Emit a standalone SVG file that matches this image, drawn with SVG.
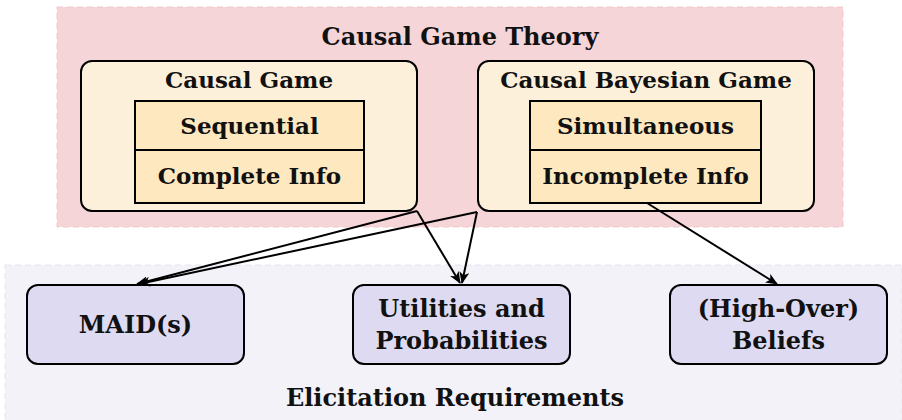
<svg xmlns="http://www.w3.org/2000/svg" width="902" height="420" viewBox="0 0 902 420">
<defs>
<style>
text{font-family:"DejaVu Serif","Liberation Serif",serif;font-weight:bold;font-size:23px;fill:#111;text-anchor:middle}
.big{font-size:24px}
.outer{fill:#fdf0db;stroke:#000;stroke-width:2}
.inner{fill:#fde8c0;stroke:#000;stroke-width:2}
.req{fill:#dedaf2;stroke:#000;stroke-width:2}
.edge{fill:none;stroke:#000;stroke-width:2}
</style>
<marker id="arr" viewBox="0 0 12 10" refX="11" refY="5" markerWidth="12" markerHeight="10" markerUnits="userSpaceOnUse" orient="auto">
<path d="M0,0 L12,5 L0,10 L3,5 Z" fill="#000"/>
</marker>
</defs>
<g id="bg-theory">
<rect x="57" y="7" width="786" height="220" fill="#f5d5d8" stroke="#f0c8cc" stroke-dasharray="6 4"/>
<text class="big" x="460" y="45">Causal Game Theory</text>
</g>
<g id="bg-elicit">
<rect x="5" y="265" width="897" height="160" fill="#f4f2f9" stroke="#e6e3ef" stroke-dasharray="6 4"/>
<text class="big" x="455" y="406">Elicitation Requirements</text>
</g>
<g id="causal-game">
<rect class="outer" x="81" y="61" width="336" height="150" rx="11"/>
<text x="249" y="88">Causal Game</text>
<rect class="inner" x="135" y="101" width="229" height="49"/>
<text x="249.5" y="134">Sequential</text>
<rect class="inner" x="135" y="150" width="229" height="53"/>
<text x="249.5" y="184">Complete Info</text>
</g>
<g id="causal-bayesian-game">
<rect class="outer" x="478" y="61" width="336" height="150" rx="11"/>
<text x="646" y="88">Causal Bayesian Game</text>
<rect class="inner" x="530" y="101" width="231" height="49"/>
<text x="645.5" y="134">Simultaneous</text>
<rect class="inner" x="530" y="150" width="231" height="53"/>
<text x="645.5" y="184">Incomplete Info</text>
</g>
<g id="maids">
<rect class="req" x="27" y="285" width="217" height="79" rx="11"/>
<text class="big" x="135.5" y="333">MAID(s)</text>
</g>
<g id="utilities">
<rect class="req" x="353" y="285" width="217" height="79" rx="11"/>
<text class="big" x="461.5" y="317">Utilities and</text>
<text class="big" x="461.5" y="349">Probabilities</text>
</g>
<g id="beliefs">
<rect class="req" x="670" y="285" width="217" height="79" rx="11"/>
<text class="big" x="778.5" y="317">(High-Over)</text>
<text class="big" x="778.5" y="349">Beliefs</text>
</g>
<g id="connectors">
<line class="edge" x1="417" y1="211" x2="137" y2="284" marker-end="url(#arr)"/>
<line class="edge" x1="417" y1="211" x2="460" y2="283" marker-end="url(#arr)"/>
<line class="edge" x1="477" y1="212" x2="139" y2="284" marker-end="url(#arr)"/>
<line class="edge" x1="477" y1="212" x2="462" y2="283" marker-end="url(#arr)"/>
<line class="edge" x1="647" y1="203" x2="777" y2="284" marker-end="url(#arr)"/>
</g>
</svg>
